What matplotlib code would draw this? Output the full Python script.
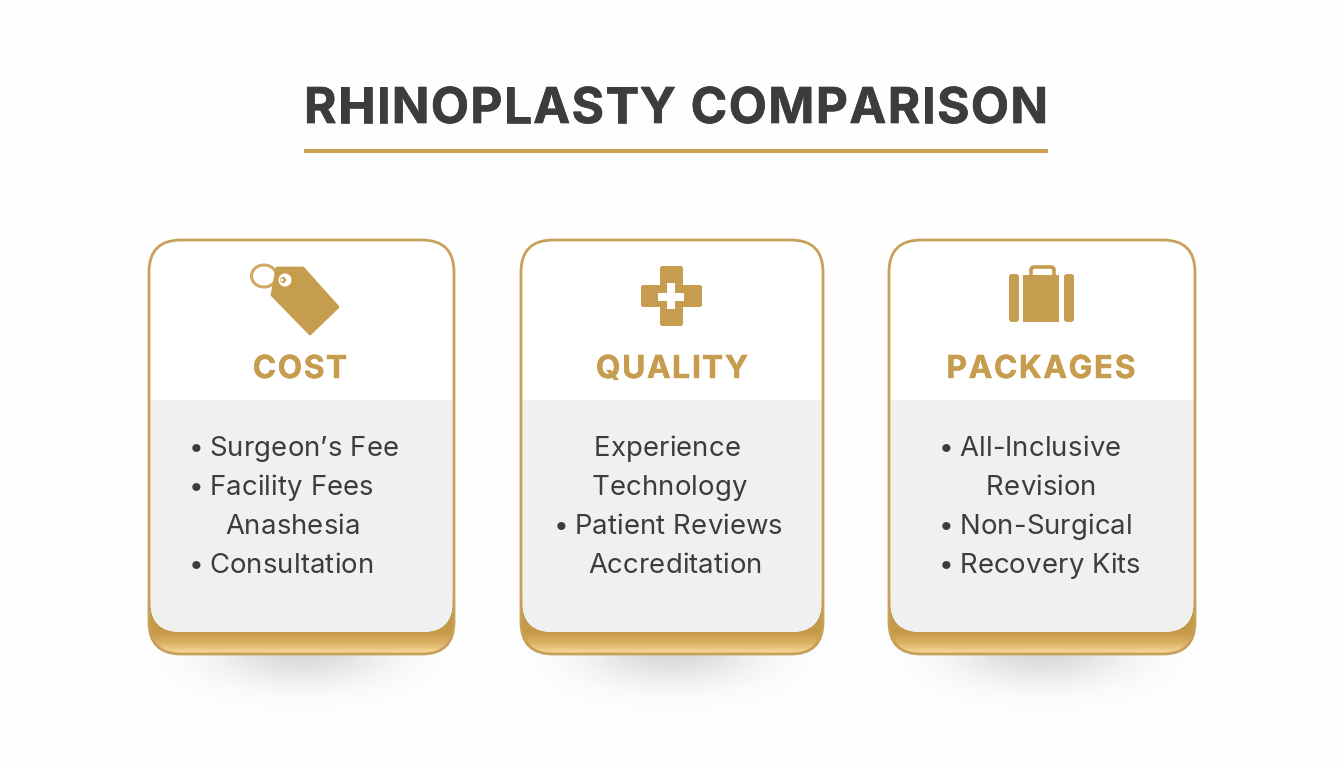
import numpy as np
import matplotlib
matplotlib.use("Agg")
import matplotlib.pyplot as plt
import matplotlib.patheffects as pe
from matplotlib.patches import FancyBboxPatch, Rectangle, Polygon, Ellipse, Circle
from matplotlib.colors import LinearSegmentedColormap

title = "RHINOPLASTY COMPARISON"
headings = ["COST", "QUALITY", "PACKAGES"]
cost_items = ["• Surgeon’s Fee", "• Facility Fees", "Anashesia", "• Consultation"]
quality_items = ["Experience", "Technology", "• Patient Reviews", "Accreditation"]
package_items = ["• All-Inclusive", "Revision", "• Non-Surgical", "• Recovery Kits"]

card_left = [149, 521, 889]
card_right = [454, 823, 1195]
heading_x = [300, 672, 1041]
item_x = [[190, 190, 225, 190], [594, 592, 555, 588], [940, 986, 940, 940]]
item_y = [456, 495, 534, 573]

GOLD = "#c69c4e"
TEXT = "#3c3c3c"
FONT = "Inter"

fig = plt.figure(figsize=(13.44, 7.68), dpi=100, facecolor="#fefefe")
ax = fig.add_axes([0, 0, 1, 1])
ax.set_xlim(0, 1344)
ax.set_ylim(768, 0)
renderer = fig.canvas.get_renderer()


def text_width(s, size, weight):
    t = ax.text(0, 0, s, fontsize=size, fontweight=weight, family=FONT)
    w = t.get_window_extent(renderer).width
    t.remove()
    return w


def spaced_text(x, y, s, size, spacing, color, weight="normal", center=False, heavy=0):
    # matplotlib has no letter spacing, so place the letters one by one
    if center:
        x = x - (text_width(s, size, weight) + spacing * (len(s) - 1)) / 2
    for i, ch in enumerate(s):
        if ch == " ":
            continue
        # width of the text up to and including this letter keeps the kerning
        lead = text_width(s[:i + 1], size, weight) - text_width(ch, size, weight)
        t = ax.text(x + lead + i * spacing, y, ch, ha="left", va="baseline", fontsize=size,
                    fontweight=weight, color=color, family=FONT, zorder=9)
        if heavy:
            t.set_path_effects([pe.withStroke(linewidth=heavy, foreground=color)])


def rbox(x0, y0, x1, y1, r, **kw):
    return FancyBboxPatch((x0, y0), x1 - x0, y1 - y0,
                          boxstyle=f"round,pad=0,rounding_size={r}", **kw)


def draw_shadow(x0, x1):
    # soft grey blur under the card, fades to nothing at the card's sides
    cx = (x0 + x1) / 2
    half = (x1 - x0) / 2 + 10
    xs = np.linspace(cx - half, cx + half, 200)
    ys = np.linspace(640, 745, 90)
    xx, yy = np.meshgrid(xs, ys)
    fade = np.clip(1 - ((xx - cx) / half) ** 2, 0, 1)
    a = 0.27 * fade * np.exp(-((xx - cx) / 100) ** 2 - ((yy - 650) / 32) ** 2)
    img = np.zeros(xx.shape + (4,))
    img[..., :3] = 0.45
    img[..., 3] = a
    ax.imshow(img, extent=(xs[0], xs[-1], ys[-1], ys[0]), aspect="auto", zorder=1)


base_cmap = LinearSegmentedColormap.from_list("base", ["#c49a48", "#d8ae60", "#f4d490"])


def draw_card(x0, x1):
    draw_shadow(x0, x1)
    outer = rbox(x0, 240, x1, 654, 32, fc="white", ec="none", zorder=2)
    ax.add_patch(outer)
    # gold base, dark until the panel edge and then fading lighter
    grad = np.clip((np.linspace(598, 654, 60) - 632) / 20, 0, 1).reshape(-1, 1)
    im = ax.imshow(grad, cmap=base_cmap, vmin=0, vmax=1, extent=(x0, x1, 654, 598),
                   aspect="auto", zorder=3)
    im.set_clip_path(outer)
    # white top and grey panel
    ax.add_patch(rbox(x0 + 1.4, 242, x1 - 1.4, 632, 30, fc="white", ec="none", zorder=4))
    panel = rbox(x0 + 1.4, 330, x1 - 1.4, 632, 30, fc="#f0f0f0", ec="none", zorder=5)
    ax.add_patch(panel)
    panel.set_clip_path(Rectangle((x0, 400), x1 - x0, 240, transform=ax.transData))
    # outline
    ax.add_patch(rbox(x0, 240, x1, 654, 32, fc="none", ec="#c8a05a", lw=2, zorder=6))


def draw_tag():
    ax.add_patch(Ellipse((264, 276), 25, 22, fc="none", ec="#cfa964", lw=2.2, zorder=7))
    pts = [(277, 268), (303, 268), (338, 307), (310, 334), (272, 295)]
    ax.add_patch(Polygon(pts, closed=True, fc=GOLD, ec=GOLD, lw=2, joinstyle="round", zorder=8))
    ax.add_patch(Circle((285, 280), 6.5, fc="white", ec="none", zorder=9))
    ax.add_patch(Circle((283, 280), 3, fc=GOLD, ec="none", zorder=10))
    ax.add_patch(Circle((282, 280), 1.5, fc="white", ec="none", zorder=11))


def draw_cross():
    ax.add_patch(rbox(660, 266, 683, 326, 2.5, fc=GOLD, ec="none", zorder=7))
    ax.add_patch(rbox(641, 285, 702, 307, 2.5, fc=GOLD, ec="none", zorder=7))
    ax.add_patch(Rectangle((667, 283), 8, 26, fc="white", ec="none", zorder=8))
    ax.add_patch(Rectangle((658, 293), 26, 8, fc="white", ec="none", zorder=8))


def draw_case():
    ax.add_patch(rbox(1031, 267, 1054, 282, 3, fc="none", ec=GOLD, lw=2.6, zorder=7))
    ax.add_patch(rbox(1009, 274, 1019, 322, 3, fc=GOLD, ec="none", zorder=8))
    ax.add_patch(Rectangle((1023, 275), 36, 47, fc=GOLD, ec="none", zorder=8))
    ax.add_patch(rbox(1064, 274, 1074, 322, 3, fc=GOLD, ec="none", zorder=8))


for left, right in zip(card_left, card_right):
    draw_card(left, right)
draw_tag()
draw_cross()
draw_case()

spaced_text(676, 123, title, 35.6, 1.5, TEXT, weight="bold", center=True, heavy=0.5)
ax.add_patch(Rectangle((304, 149), 744, 4, fc="#c8a050", ec="none", zorder=3))

for hx, heading in zip(heading_x, headings):
    spaced_text(hx, 378, heading, 22.8, 1.6, GOLD, weight="bold", center=True, heavy=0.3)

for xs, items in zip(item_x, [cost_items, quality_items, package_items]):
    for x, y, item in zip(xs, item_y, items):
        if item.startswith("• "):
            spaced_text(x - 1, y, "•", 19, 0, TEXT)
            spaced_text(x + 19.5, y, item[2:], 19.8, 0.12, TEXT)
        else:
            spaced_text(x, y, item, 19.8, 0.12, TEXT)

ax.set_xlim(0, 1344)
ax.set_ylim(768, 0)
ax.axis("off")

fig.savefig("out.png", dpi=100, facecolor=fig.get_facecolor())
